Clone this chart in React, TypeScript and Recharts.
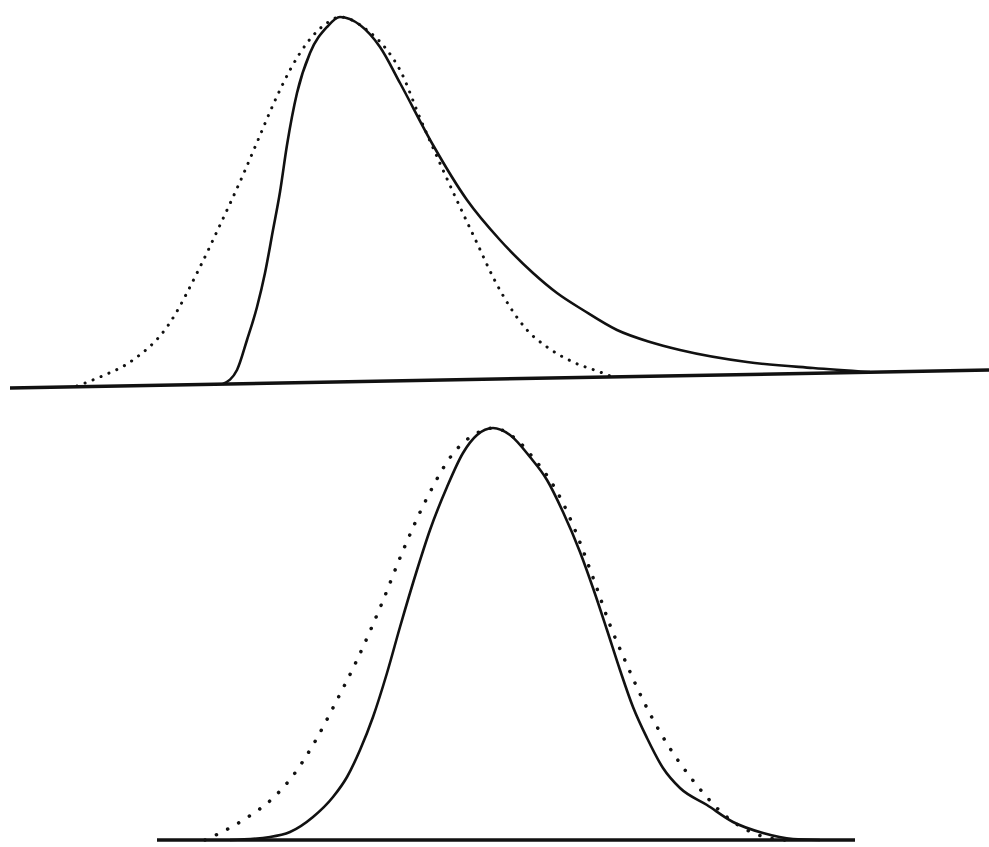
import { Line, LineChart, ReferenceLine, XAxis, YAxis } from 'recharts'

// upper panel: skewed distribution (solid) vs fitted normal (dotted)
const upperSolidX = [223, 237, 247, 257, 265, 273, 280, 287, 297, 310, 327, 340, 360, 380, 400, 433, 467, 500, 533, 557, 583, 617, 650, 680, 747, 813, 870]
const upperSolidY = [-4, 10, 40, 73, 107, 150, 188, 235, 287, 327, 353, 363, 355, 333, 297, 235, 180, 140, 107, 87, 70, 50, 38, 30, 18, 12, 8]
const upperDottedX = [77, 100, 133, 167, 200, 220, 243, 258, 273, 290, 307, 327, 340, 367, 387, 400, 420, 443, 460, 477, 493, 510, 527, 547, 573, 600, 613]
const upperDottedY = [-6, 3, 20, 53, 113, 155, 205, 240, 275, 310, 337, 357, 363, 350, 330, 310, 262, 210, 173, 137, 103, 73, 50, 33, 18, 8, 3]

// lower panel: near-normal distribution (solid) vs fitted normal (dotted)
const lowerSolidX = [230, 270, 290, 313, 333, 347, 360, 373, 387, 400, 417, 430, 447, 463, 477, 493, 510, 530, 547, 563, 580, 593, 607, 620, 633, 647, 663, 680, 707, 733, 763, 793, 820]
const lowerSolidY = [0, 3, 8, 23, 43, 63, 90, 123, 167, 213, 270, 310, 353, 387, 405, 412, 405, 383, 360, 328, 288, 252, 210, 170, 133, 102, 72, 52, 35, 18, 7, 1, 0]
const lowerDottedX = [205, 222, 248, 272, 292, 313, 337, 357, 382, 402, 427, 452, 477, 493, 517, 535, 550, 563, 575, 595, 610, 627, 642, 660, 675, 688, 705, 720, 743, 765, 785]
const lowerDottedY = [0, 8, 23, 41, 63, 95, 140, 180, 237, 287, 342, 385, 407, 412, 400, 380, 360, 337, 310, 257, 215, 175, 142, 108, 84, 66, 45, 29, 12, 3, 0]

const toPoints = (xs: number[], ys: number[]) => xs.map((x, i) => ({ x, y: ys[i] }))

const INK = '#111'

interface PanelProps {
  height: number
  yDomain: [number, number]
  solid: { x: number; y: number }[]
  dotted: { x: number; y: number }[]
  base: [{ x: number; y: number }, { x: number; y: number }]
  dotGap: number
  dotSize: number
}

function Panel({ height, yDomain, solid, dotted, base, dotGap, dotSize }: PanelProps) {
  return (
    <LineChart width={989} height={height} margin={{ top: 0, right: 0, bottom: 0, left: 0 }}>
      <XAxis type="number" dataKey="x" domain={[0, 989]} hide allowDataOverflow />
      <YAxis type="number" dataKey="y" domain={yDomain} hide allowDataOverflow />
      <ReferenceLine segment={base} stroke={INK} strokeWidth={3.5} ifOverflow="visible" />
      <Line
        data={dotted}
        dataKey="y"
        type="monotone"
        stroke={INK}
        strokeWidth={dotSize}
        strokeDasharray={`0.1 ${dotGap}`}
        strokeLinecap="round"
        dot={false}
        activeDot={false}
        isAnimationActive={false}
      />
      <Line
        data={solid}
        dataKey="y"
        type="monotone"
        stroke={INK}
        strokeWidth={2.6}
        dot={false}
        activeDot={false}
        isAnimationActive={false}
      />
    </LineChart>
  )
}

export default function App() {
  return (
    <div style={{ position: 'absolute', left: 0, top: 0, width: 989, height: 847, background: '#fff' }}>
      <Panel
        height={400}
        yDomain={[-20, 380]}
        solid={toPoints(upperSolidX, upperSolidY)}
        dotted={toPoints(upperDottedX, upperDottedY)}
        base={[{ x: 10, y: -8 }, { x: 989, y: 10 }]}
        dotGap={8.5}
        dotSize={3}
      />
      <Panel
        height={447}
        yDomain={[-7, 440]}
        solid={toPoints(lowerSolidX, lowerSolidY)}
        dotted={toPoints(lowerDottedX, lowerDottedY)}
        base={[{ x: 157, y: 0 }, { x: 855, y: 0 }]}
        dotGap={12.5}
        dotSize={3.5}
      />
    </div>
  )
}
